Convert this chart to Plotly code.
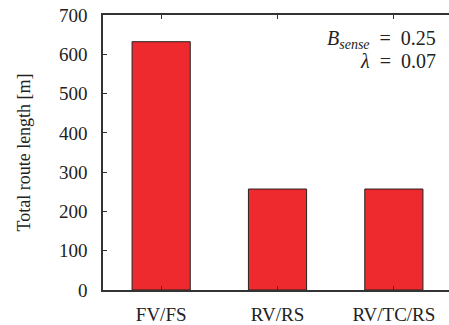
import plotly.graph_objects as go

# Total route length per strategy
categories = ["FV/FS", "RV/RS", "RV/TC/RS"]
route_length = [632, 257, 257]
y_ticks = [0, 100, 200, 300, 400, 500, 600, 700]

# Parameter labels shown in the top-right corner
param_lines = [
    "<i>B</i><sub><i>sense</i></sub>\u2002=\u20020.25",
    "<i>λ</i>\u2002=\u20020.07",
]
param_y = [0.910, 0.831]

SERIF = "Liberation Serif, Times New Roman, serif"
AXIS_COLOR = "#333333"
TEXT_COLOR = "#222222"

fig = go.Figure(
    go.Bar(
        x=categories,
        y=route_length,
        width=0.5,
        marker=dict(color="#EE2A2F", line=dict(color="#222222", width=1)),
    )
)

fig.update_layout(
    width=449,
    height=325,
    margin=dict(l=103, r=0, t=15, b=32),
    paper_bgcolor="white",
    plot_bgcolor="white",
    showlegend=False,
    font=dict(family=SERIF, color=TEXT_COLOR, size=18),
)

fig.update_xaxes(
    range=[-0.5, 2.474],
    showline=True,
    linecolor=AXIS_COLOR,
    linewidth=1.5,
    mirror="ticks",
    ticks="inside",
    ticklen=4,
    tickcolor=AXIS_COLOR,
    showgrid=False,
    tickfont=dict(family=SERIF, size=19, color=TEXT_COLOR),
    ticklabelstandoff=6,
)

fig.update_yaxes(
    range=[0, 700],
    tickvals=y_ticks,
    showline=True,
    linecolor=AXIS_COLOR,
    linewidth=1.5,
    ticks="inside",
    ticklen=4,
    tickcolor=AXIS_COLOR,
    showgrid=False,
    zeroline=False,
    tickfont=dict(family=SERIF, size=19, color=TEXT_COLOR),
    ticklabelstandoff=10,
    title=dict(text="Total route length [m]",
               font=dict(family=SERIF, size=18, color=TEXT_COLOR), standoff=24),
)

for text, y in zip(param_lines, param_y):
    fig.add_annotation(
        xref="paper", yref="paper",
        x=0.968, y=y,
        xanchor="right", yanchor="middle",
        align="right",
        showarrow=False,
        text=text,
        font=dict(family=SERIF, size=20, color=TEXT_COLOR),
    )

fig.write_html("out.html")
